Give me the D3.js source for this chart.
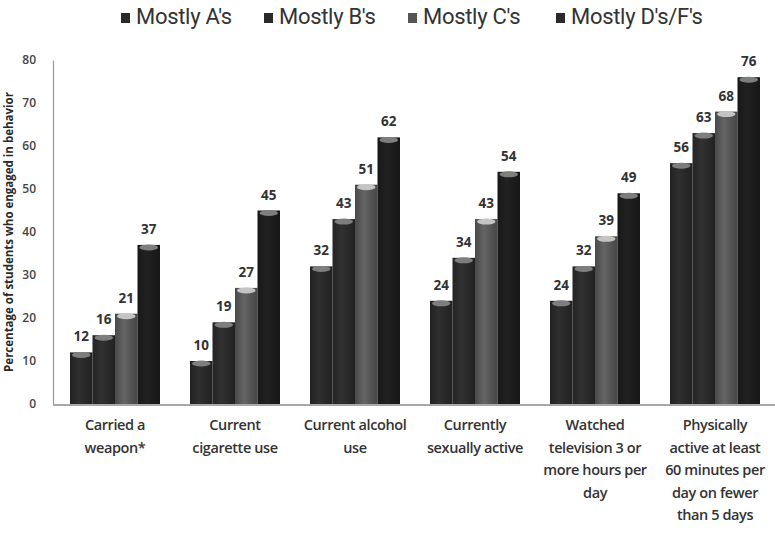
<!DOCTYPE html>
<html>
<head>
<meta charset="utf-8">
<script src="https://cdn.jsdelivr.net/npm/d3@7"></script>
<style>
  html, body { margin: 0; padding: 0; background: #fff; }
  svg { display: block; }
</style>
</head>
<body>
<svg id="chart" width="775" height="534"></svg>
<script>
// Behaviours, one group of bars each
const categories = [
  "Carried a weapon*",
  "Current cigarette use",
  "Current alcohol use",
  "Currently sexually active",
  "Watched television 3 or more hours per day",
  "Physically active at least 60 minutes per day on fewer than 5 days"
];
// Wrapped lines for the category labels
const categoryLines = [
  ["Carried a", "weapon*"],
  ["Current", "cigarette use"],
  ["Current alcohol", "use"],
  ["Currently", "sexually active"],
  ["Watched", "television 3 or", "more hours per", "day"],
  ["Physically", "active at least", "60 minutes per", "day on fewer", "than 5 days"]
];
const seriesNames = ["Mostly A's", "Mostly B's", "Mostly C's", "Mostly D's/F's"];
const gradeA = [12, 10, 32, 24, 24, 56];
const gradeB = [16, 19, 43, 34, 32, 63];
const gradeC = [21, 27, 51, 43, 39, 68];
const gradeDF = [37, 45, 62, 54, 49, 76];
const yTicks = [0, 10, 20, 30, 40, 50, 60, 70, 80];
const yTitle = "Percentage of students who engaged in behavior";

const seriesValues = [gradeA, gradeB, gradeC, gradeDF];
const seriesColors = ["#2a2a2a", "#2c2c2c", "#5a5a5a", "#1e1e1e"];

const svg = d3.select("#chart");
const plot = { left: 53, right: 775, top: 60, bottom: 404 };

const y = d3.scaleLinear().domain([0, 80]).range([plot.bottom, plot.top]);
const x0 = d3.scaleBand().domain(categories).range([55, 775]).paddingInner(0.25).paddingOuter(0.125);
const x1 = d3.scaleBand().domain(seriesNames).range([0, x0.bandwidth()]).padding(0);

// Cylinder-like shading for each series
const defs = svg.append("defs");
seriesColors.forEach((c, i) => {
  const g = defs.append("linearGradient").attr("id", "shade" + i)
    .attr("x1", "0%").attr("x2", "100%").attr("y1", "0%").attr("y2", "0%");
  const base = d3.color(c);
  g.append("stop").attr("offset", "0%").attr("stop-color", base.darker(0.6));
  g.append("stop").attr("offset", "40%").attr("stop-color", base.brighter(0.3));
  g.append("stop").attr("offset", "100%").attr("stop-color", base.darker(0.7));
});

// Y axis
const yAxis = d3.axisLeft(y).tickValues(yTicks).tickSize(0).tickPadding(17);
const yG = svg.append("g").attr("transform", `translate(${plot.left},0)`).call(yAxis);
yG.select(".domain").attr("stroke", "#9a9a9a").attr("stroke-width", 1.2);
yG.selectAll("text")
  .attr("font-family", "'Open Sans', 'DejaVu Sans', sans-serif")
  .attr("font-size", 12).attr("font-weight", 600).attr("fill", "#444");

// Y axis title along the left edge
svg.append("text")
  .attr("transform", `translate(10,${(plot.top + plot.bottom) / 2}) rotate(-90)`)
  .attr("text-anchor", "middle")
  .attr("dominant-baseline", "middle")
  .attr("font-family", "'Open Sans', sans-serif")
  .attr("font-size", 11.5).attr("font-weight", 700).attr("fill", "#2a2a2a")
  .text(yTitle);

// Bars
const groups = svg.append("g").selectAll("g")
  .data(categories).join("g")
  .attr("transform", d => `translate(${x0(d)},0)`);

groups.each(function(cat, ci) {
  const g = d3.select(this);
  seriesNames.forEach((s, si) => {
    const v = seriesValues[si][ci];
    const bx = x1(s), bw = x1.bandwidth();
    g.append("rect")
      .attr("x", bx).attr("y", y(v))
      .attr("width", bw).attr("height", y(0) - y(v))
      .attr("fill", `url(#shade${si})`);
    // lighter cap at the top of the bar
    g.append("ellipse")
      .attr("cx", bx + bw / 2).attr("cy", y(v) + 2.5)
      .attr("rx", bw / 2 - 2).attr("ry", 3)
      .attr("fill", si === 2 ? "#c4c4c4" : "#7e7e7e");
  });
  // value labels drawn after the bars so they sit on top
  seriesNames.forEach((s, si) => {
    const v = seriesValues[si][ci];
    const bx = x1(s), bw = x1.bandwidth();
    g.append("text")
      .attr("x", bx + bw / 2).attr("y", y(v) - 11)
      .attr("text-anchor", "middle")
      .attr("font-family", "'Open Sans', sans-serif")
      .attr("font-size", 13.5).attr("font-weight", 700).attr("fill", "#333")
      .attr("stroke", "#fff").attr("stroke-width", 3).attr("paint-order", "stroke")
      .text(v);
  });
});

// Baseline
svg.append("line")
  .attr("x1", plot.left).attr("x2", plot.right)
  .attr("y1", y(0) + 1).attr("y2", y(0) + 1)
  .attr("stroke", "#a8a8a8").attr("stroke-width", 2);

// Category labels
const catG = svg.append("g");
categories.forEach((c, i) => {
  const cx = x0(c) + x0.bandwidth() / 2;
  const t = catG.append("text")
    .attr("x", cx)
    .attr("y", 430)
    .attr("text-anchor", "middle")
    .attr("font-family", "'Open Sans', sans-serif")
    .attr("font-size", 14.5).attr("font-weight", 600).attr("fill", "#333")
    .attr("letter-spacing", -0.4);
  categoryLines[i].forEach((line, li) => {
    t.append("tspan")
      .attr("x", cx)
      .attr("dy", li === 0 ? 0 : 22.5)
      .text(line);
  });
});

// Legend
const legendX = [121, 264, 408, 556];
const legend = svg.append("g");
seriesNames.forEach((s, i) => {
  const lg = legend.append("g").attr("transform", `translate(${legendX[i]},18)`);
  lg.append("rect").attr("x", 0).attr("y", -5).attr("width", 9).attr("height", 10)
    .attr("fill", i === 2 ? "#555" : "#2a2a2a");
  lg.append("text").attr("x", 15).attr("y", 0)
    .attr("dominant-baseline", "middle")
    .attr("font-family", "'Liberation Sans Narrow', 'Roboto', sans-serif")
    .attr("font-size", 22).attr("fill", "#333")
    .attr("letter-spacing", -0.3)
    .text(s);
});
</script>
</body>
</html>
